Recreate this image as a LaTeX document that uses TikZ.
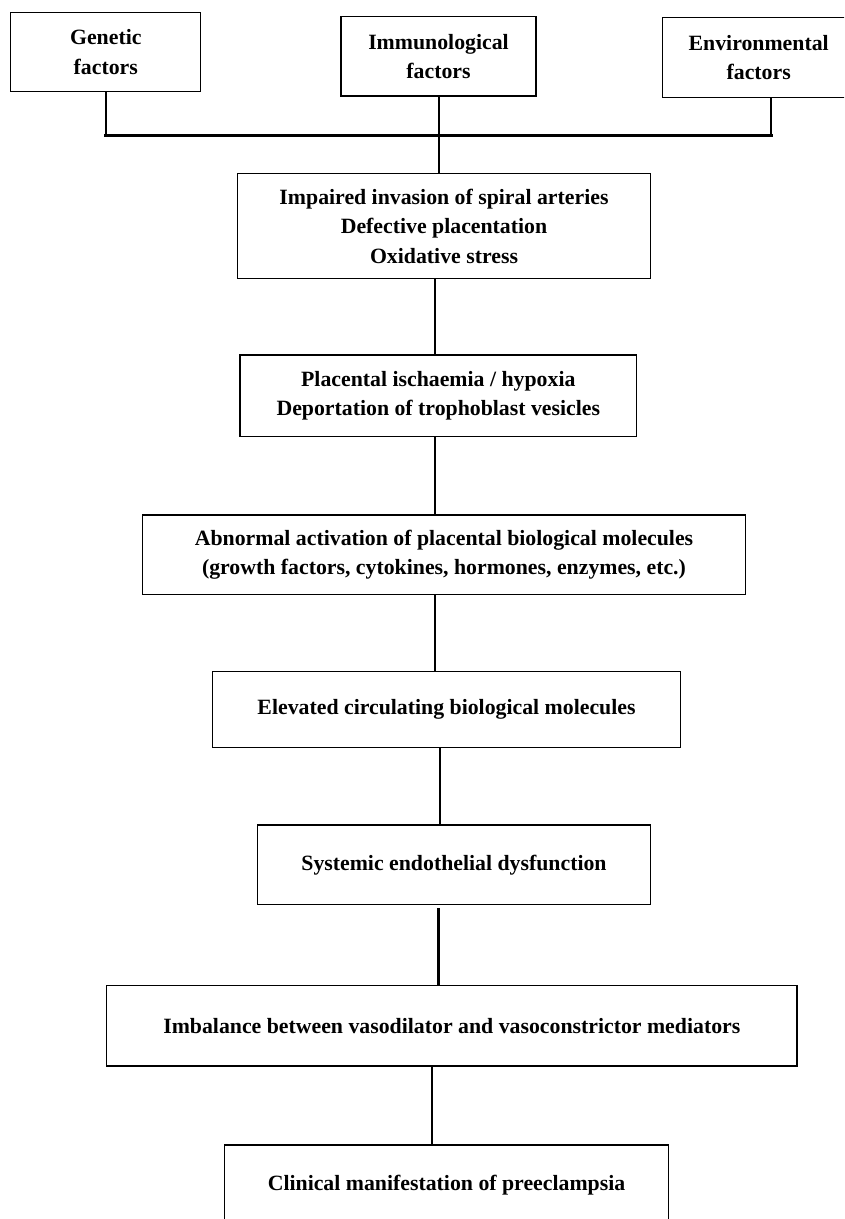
\documentclass[tikz,border=0pt]{standalone}
\usepackage{fontspec}
\setmainfont{Liberation Serif}
\begin{document}
\begin{tikzpicture}[x=1pt,y=-1pt,
  box/.style={draw, line width=1.2pt, rectangle, inner sep=0pt, align=center,
    font=\bfseries\fontsize{21.8}{29.5}\selectfont},
  conn/.style={line width=2.4pt},
  barline/.style={line width=3.2pt}]
\useasboundingbox (0,0) rectangle (844,1219);
\clip (0,0) rectangle (844,1219);
\node[box, minimum width=190pt, minimum height=79pt] (gen) at (105.8,52.2) {Genetic\\factors};
\node[box, minimum width=195pt, minimum height=79.3pt] (imm) at (438.5,56.4) {Immunological\\factors};
\node[box, minimum width=192pt, minimum height=80.4pt] (env) at (758.7,57.5) {Environmental\\factors};
\node[box, minimum width=413.3pt, minimum height=105.4pt] (b1) at (444,226) {Impaired invasion of spiral arteries\\Defective placentation\\Oxidative stress};
\node[box, minimum width=396.7pt, minimum height=81.7pt] (b2) at (438.3,395.8) {Placental ischaemia / hypoxia\\Deportation of trophoblast vesicles};
\node[box, minimum width=602.8pt, minimum height=79.3pt] (b3) at (444,554.7) {Abnormal activation of placental biological molecules\\(growth factors, cytokines, hormones, enzymes, etc.)};
\node[box, minimum width=467.7pt, minimum height=76pt] (b4) at (446.5,709.7) {Elevated circulating biological molecules};
\node[box, minimum width=393.4pt, minimum height=79.3pt] (b5) at (454,864.7) {Systemic endothelial dysfunction};
\node[box, minimum width=690.4pt, minimum height=80.3pt] (b6) at (451.8,1025.8) {Imbalance between vasodilator and vasoconstrictor mediators};
\node[box, minimum width=444pt, minimum height=81pt] (b7) at (446.5,1185.5) {Clinical manifestation of preeclampsia};
% junction
\coordinate (jl) at (106,135.7);
\coordinate (jm) at (438.7,135.7);
\coordinate (jr) at (771,135.7);
\coordinate (xa) at (435,0);
\coordinate (xb) at (440,0);
\coordinate (xc) at (438.6,0);
\coordinate (xd) at (432.2,0);
\draw[conn] (gen.south -| jl) -- (jl);
\draw[conn] (env.south -| jr) -- (jr);
\draw[conn] (imm.south -| jm) -- (jm);
\draw[barline, line cap=rect] (jl) -- (jr);
\draw[conn] (jm) -- (b1.north -| jm);
\draw[conn] (b1.south -| xa) -- (b2.north -| xa);
\draw[conn] (b2.south -| xa) -- (b3.north -| xa);
\draw[conn] (b3.south -| xa) -- (b4.north -| xa);
\draw[conn] (b4.south -| xb) -- (b5.north -| xb);
\draw[conn] ([yshift=-3.5pt]b5.south -| xc) -- (b6.north -| xc);
\draw[conn] (b6.south -| xd) -- (b7.north -| xd);
\end{tikzpicture}
\end{document}
